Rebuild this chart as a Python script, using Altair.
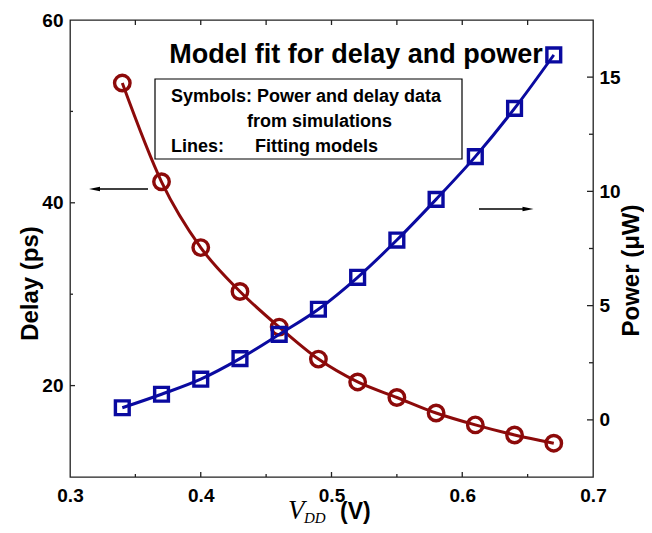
import altair as alt
import pandas as pd

# ---- data ----
vdd = [0.34, 0.37, 0.40, 0.43, 0.46, 0.49, 0.52, 0.55, 0.58, 0.61, 0.64, 0.67]
delay_ps = [53.1, 42.3, 35.1, 30.3, 26.4, 22.9, 20.4, 18.7, 17.0, 15.7, 14.6, 13.7]
power_uw = [0.53, 1.12, 1.78, 2.68, 3.74, 4.84, 6.24, 7.87, 9.65, 11.52, 13.63, 15.97]

x_labels = [0.3, 0.4, 0.5, 0.6, 0.7]
x_major_ticks = [0.4, 0.5, 0.6]
x_minor_ticks = [0.35, 0.45, 0.55, 0.65]
x_top_ticks = [0.35, 0.4, 0.45, 0.5, 0.55, 0.6, 0.65]
delay_labels = [20, 40, 60]
delay_major_ticks = [20, 40]
delay_minor_ticks = [30, 50]
power_labels = [0, 5, 10, 15]
power_major_ticks = [0, 5, 10, 15]
power_minor_ticks = [2.5, 7.5, 12.5]

title_text = "Model fit for delay and power"
box_lines = ["Symbols: Power and delay data", "from simulations", "Lines:", "Fitting models"]

W, H = 523, 457
RED = "#8c0a0a"
BLUE = "#0a0aa0"
AX = "#222222"
FONT = "Liberation Sans"

df = pd.DataFrame({"v": vdd, "delay": delay_ps, "power": power_uw})

xs = alt.Scale(domain=[0.3, 0.7], nice=False, zero=False)
ys_d = alt.Scale(domain=[10, 60], nice=False, zero=False)
ys_p = alt.Scale(domain=[-2.5, 17.5], nice=False, zero=False)

x_axis = alt.Axis(values=x_labels, format=".1f", ticks=False, domain=False, grid=False,
                  labelPadding=9, labelFlush=False, labelOverlap=False, title=None,
                  labelFont=FONT, labelFontSize=19, labelFontWeight="bold", labelColor="black")
left_axis = alt.Axis(orient="left", values=delay_labels, format="d", ticks=False, domain=False,
                     grid=False, labelPadding=7, labelFlush=False, labelOverlap=False,
                     labelFont=FONT, labelFontSize=19, labelFontWeight="bold", labelColor="black",
                     title="Delay (ps)", titleFont=FONT, titleFontSize=24, titleFontWeight="bold",
                     titleColor="black", titleAngle=270, titleX=-33, titleY=263,
                     titleAlign="center", titleBaseline="alphabetic")
right_axis = alt.Axis(orient="right", values=power_labels, format="d", ticks=False, domain=False,
                      grid=False, labelPadding=6, labelFlush=False, labelOverlap=False,
                      labelFont=FONT, labelFontSize=19, labelFontWeight="bold", labelColor="black",
                      title="Power (\u03bcW)", titleFont=FONT, titleFontSize=24, titleFontWeight="bold",
                      titleColor="black", titleAngle=270, titleX=45, titleY=250,
                      titleAlign="center", titleBaseline="alphabetic")

one = alt.Data(values=[{}])

X = alt.X("v:Q", scale=xs, axis=x_axis)
YD = alt.Y("delay:Q", scale=ys_d, axis=left_axis)
YP = alt.Y("power:Q", scale=ys_p, axis=right_axis)


def xticks(vals, y0, y1):
    return alt.Chart(pd.DataFrame({"v": vals})).mark_rule(color=AX, strokeWidth=1.3).encode(
        x=X, y=alt.value(y0), y2=alt.value(y1))


def yticks(vals, field, ych, x0, x1):
    return alt.Chart(pd.DataFrame({field: vals})).mark_rule(color=AX, strokeWidth=1.3).encode(
        y=ych, x=alt.value(x0), x2=alt.value(x1))


def text(t, x, y, size, weight="bold", font=FONT, style="normal", align="left"):
    return alt.Chart(one).mark_text(text=t, font=font, fontSize=size, fontWeight=weight,
                                    fontStyle=style, align=align, baseline="alphabetic",
                                    color="black").encode(x=alt.value(x), y=alt.value(y))


delay_line = alt.Chart(df).mark_line(color=RED, strokeWidth=3, interpolate="monotone").encode(
    x=X, y=YD)
delay_pts = alt.Chart(df).mark_point(shape="circle", filled=False, color=RED, size=240,
                                     strokeWidth=3.4, opacity=1).encode(x=X, y=YD)

power_line = alt.Chart(df).mark_line(color=BLUE, strokeWidth=3, interpolate="monotone").encode(
    x=X, y=YP)
power_pts = alt.Chart(df).mark_point(shape="square", filled=False, color=BLUE, size=190,
                                     strokeWidth=3.4, opacity=1).encode(x=X, y=YP)

box = alt.Chart(one).mark_rect(fill="white", stroke="black", strokeWidth=1.2).encode(
    x=alt.value(85), x2=alt.value(392), y=alt.value(59), y2=alt.value(139))

arrow_l = alt.Chart(one).mark_rule(color="black", strokeWidth=1.5).encode(
    x=alt.value(30), x2=alt.value(78), y=alt.value(169))
head_l = alt.Chart(one).mark_point(shape="M-1,0L1,-0.4L1,0.4Z", filled=True, color="black",
                                   size=121, opacity=1).encode(x=alt.value(24.5), y=alt.value(169))
arrow_r = alt.Chart(one).mark_rule(color="black", strokeWidth=1.5).encode(
    x=alt.value(409), x2=alt.value(454), y=alt.value(189))
head_r = alt.Chart(one).mark_point(shape="M1,0L-1,-0.4L-1,0.4Z", filled=True, color="black",
                                   size=121, opacity=1).encode(x=alt.value(458), y=alt.value(189))

texts = [
    text(title_text, 286, 43, 27, align="center"),
    text(box_lines[0], 101, 82, 18),
    text(box_lines[1], 177, 107, 18),
    text(box_lines[2], 101, 132, 18),
    text(box_lines[3], 185, 132, 18),
    text("V", 218, 499, 27, weight="normal", font="Liberation Serif", style="italic"),
    text("DD", 234, 503, 15, weight="normal", font="Liberation Serif", style="italic"),
    text("(V)", 270, 499, 23),
]

left = alt.layer(
    box, delay_line, delay_pts,
    yticks(delay_major_ticks, "delay", YD, 0, 5),
    yticks(delay_minor_ticks, "delay", YD, 0, 3),
    xticks(x_major_ticks, H, H - 5),
    xticks(x_minor_ticks, H, H - 3),
    xticks(x_top_ticks, 0, 5),
    arrow_l, head_l, arrow_r, head_r,
    *texts,
)
right = alt.layer(
    power_line, power_pts,
    yticks(power_major_ticks, "power", YP, W, W - 6),
    yticks(power_minor_ticks, "power", YP, W, W - 4),
)

chart = alt.layer(left, right).resolve_scale(y="independent").properties(
    width=W, height=H,
    background="white",
    autosize=alt.AutoSizeParams(type="none"),
    padding={"left": 62, "top": 12, "right": 51, "bottom": 48},
).configure_view(stroke=AX, strokeWidth=1.3)

chart.save("out.html", embed_options={"renderer": "svg", "actions": False})
